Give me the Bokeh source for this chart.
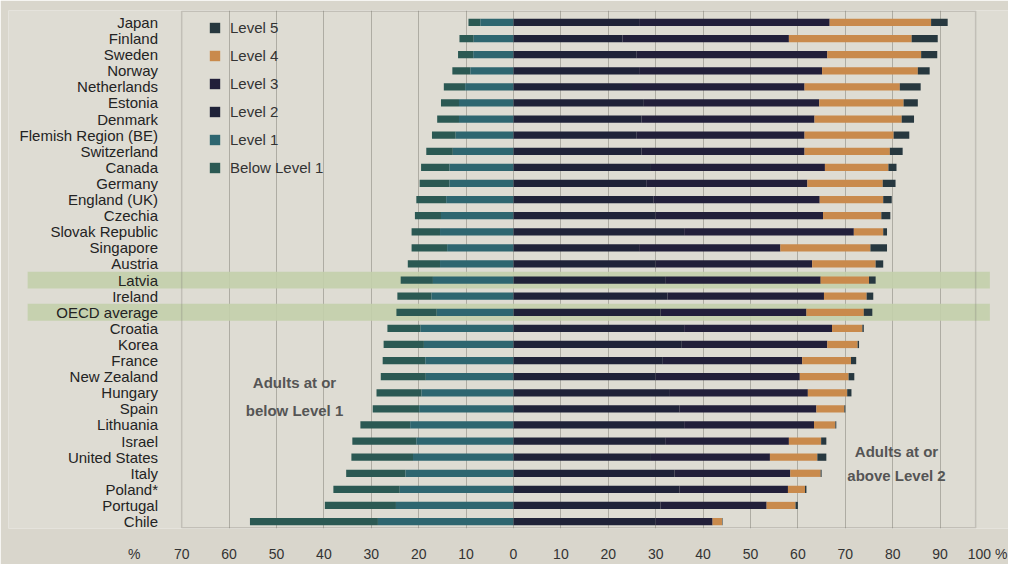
import numpy as np
from bokeh.plotting import figure
from bokeh.models import Range1d, FixedTicker, BoxAnnotation, Legend, LegendItem
from bokeh.core.properties import value
from bokeh.embed import file_html
from bokeh.resources import INLINE

countries = ["Japan", "Finland", "Sweden", "Norway", "Netherlands", "Estonia", "Denmark",
             "Flemish Region (BE)", "Switzerland", "Canada", "Germany", "England (UK)",
             "Czechia", "Slovak Republic", "Singapore", "Austria", "Latvia", "Ireland",
             "OECD average", "Croatia", "Korea", "France", "New Zealand", "Hungary", "Spain",
             "Lithuania", "Israel", "United States", "Italy", "Poland*", "Portugal", "Chile"]

below1 = [2.5, 3.0, 3.2, 3.8, 4.5, 3.8, 4.6, 5.0, 5.6, 6.0, 6.3, 6.3, 5.5, 6.0, 7.5, 6.8,
          6.8, 7.2, 8.5, 7.0, 8.5, 9.0, 9.5, 9.5, 9.8, 10.5, 13.5, 13.0, 12.5, 14.0, 15.0, 27.0]
level1 = [7.0, 8.4, 8.5, 9.1, 10.2, 11.5, 11.5, 12.2, 12.8, 13.5, 13.5, 14.2, 15.3, 15.5, 14.0, 15.5,
          17.0, 17.3, 16.2, 19.6, 18.9, 18.6, 18.5, 19.4, 19.9, 21.8, 20.5, 21.2, 22.8, 24.0, 24.8, 28.6]
level2 = [26.5, 23.0, 26.0, 26.5, 25.0, 27.5, 27.0, 26.0, 27.0, 29.0, 28.0, 29.5, 30.0, 36.0, 26.5, 30.0,
          32.0, 32.5, 31.0, 36.0, 35.5, 31.5, 30.0, 33.0, 35.0, 36.0, 32.0, 29.0, 34.0, 35.0, 31.0, 30.0]
level3 = [40.2, 35.1, 40.2, 38.6, 36.4, 37.0, 36.5, 35.4, 34.4, 36.7, 34.0, 35.1, 35.3, 35.8, 29.8, 33.0,
          32.8, 33.0, 30.8, 31.2, 30.7, 29.4, 30.4, 29.1, 28.9, 27.4, 26.1, 25.1, 24.4, 22.9, 22.4, 12.0]
level4 = [21.4, 25.9, 19.8, 20.2, 20.1, 17.8, 18.4, 18.8, 18.0, 13.4, 15.9, 13.4, 12.3, 6.2, 19.0, 13.4,
          10.2, 9.0, 12.1, 6.4, 6.4, 10.3, 10.3, 8.3, 5.9, 4.5, 6.8, 10.0, 6.4, 3.6, 6.1, 2.0]
level5 = [3.5, 5.5, 3.4, 2.5, 4.4, 3.0, 2.6, 3.3, 2.7, 1.7, 2.7, 1.8, 1.9, 0.8, 3.5, 1.6,
          1.4, 1.4, 1.8, 0.3, 0.3, 1.1, 1.2, 0.9, 0.2, 0.2, 1.1, 1.9, 0.2, 0.3, 0.5, 0.1]

highlighted = ["Latvia", "OECD average"]

tick_values = [-80, -70, -60, -50, -40, -30, -20, -10, 0, 10, 20, 30, 40, 50, 60, 70, 80, 90, 100]
tick_labels = ["%", "70", "60", "50", "40", "30", "20", "10", "0", "10", "20", "30", "40",
               "50", "60", "70", "80", "90", "100 %"]

colors = {
    "Below Level 1": "#2b5953",
    "Level 1": "#2e6670",
    "Level 2": "#1f2238",
    "Level 3": "#221f3a",
    "Level 4": "#c98a4c",
    "Level 5": "#27383f",
}

FONT = value("Liberation Sans")
n = len(countries)
rows = np.arange(n)

p = figure(frame_width=1000, frame_height=518, output_backend="svg", toolbar_location=None,
           x_range=Range1d(-106.54, 104.43), y_range=Range1d(31.43, -0.745),
           y_axis_location=None, min_border_left=8, min_border_right=0,
           min_border_top=10, min_border_bottom=0)
p.background_fill_color = "#dedcd3"
p.border_fill_color = "#d9d6cc"
p.outline_line_color = None
p.ygrid.visible = False
p.xgrid.ticker = FixedTicker(ticks=[t for t in tick_values if -70 < t < 100])
p.xgrid.grid_line_color = "#8e8c84"
p.xgrid.grid_line_alpha = 0.6

# highlight bands
hl = [countries.index(c) for c in highlighted]
p.hbar(y=hl, left=-102.5, right=100.5, height=1.05, fill_color="#c3cfab", line_color=None,
       fill_alpha=0.9)

# frame box
p.add_layout(BoxAnnotation(left=-70, right=97.5, top=-0.70, bottom=31.38, fill_alpha=0,
                           line_color="#807e76", line_width=1.5))

b1 = np.array(below1); l1 = np.array(level1)
l2 = np.array(level2); l3 = np.array(level3); l4 = np.array(level4); l5 = np.array(level5)

h = 0.45
r_b1 = p.hbar(y=rows, left=-(l1 + b1), right=-l1, height=h, fill_color=colors["Below Level 1"], line_color=None)
r_l1 = p.hbar(y=rows, left=-l1, right=0, height=h, fill_color=colors["Level 1"], line_color=None)
r_l2 = p.hbar(y=rows, left=0, right=l2, height=h, fill_color=colors["Level 2"], line_color=None)
r_l3 = p.hbar(y=rows, left=l2, right=l2 + l3, height=h, fill_color=colors["Level 3"], line_color=None)
r_l4 = p.hbar(y=rows, left=l2 + l3, right=l2 + l3 + l4, height=h, fill_color=colors["Level 4"], line_color=None)
r_l5 = p.hbar(y=rows, left=l2 + l3 + l4, right=l2 + l3 + l4 + l5, height=h, fill_color=colors["Level 5"], line_color=None)

# country labels
p.text(x=-75, y=rows, text=countries, text_align="right", text_baseline="middle",
       text_font=FONT, text_font_size="15px", text_color="#232323")

# annotations
p.text(x=[-46.2, -46.2], y=[22.36, 24.1], text=["Adults at or", "below Level 1"],
       text_align="center", text_baseline="middle", text_font=FONT, text_font_size="15px",
       text_font_style="bold", text_color="#555555")
p.text(x=[80.8, 80.8], y=[26.65, 28.15], text=["Adults at or", "above Level 2"],
       text_align="center", text_baseline="middle", text_font=FONT, text_font_size="15px",
       text_font_style="bold", text_color="#555555")

# x axis
p.xaxis.ticker = FixedTicker(ticks=tick_values)
p.xaxis.major_label_overrides = {v: s for v, s in zip(tick_values, tick_labels)}
p.xaxis.axis_line_color = None
p.xaxis.major_tick_line_color = None
p.xaxis.minor_tick_line_color = None
p.xaxis.major_label_standoff = 11
p.xaxis.major_label_text_font = "Liberation Sans"
p.xaxis.major_label_text_font_size = "14px"
p.xaxis.major_label_text_color = "#333333"

legend = Legend(items=[
    LegendItem(label="Level 5", renderers=[r_l5]),
    LegendItem(label="Level 4", renderers=[r_l4]),
    LegendItem(label="Level 3", renderers=[r_l3]),
    LegendItem(label="Level 2", renderers=[r_l2]),
    LegendItem(label="Level 1", renderers=[r_l1]),
    LegendItem(label="Below Level 1", renderers=[r_b1]),
], location=(200, 352))
legend.background_fill_alpha = 0
legend.border_line_color = None
legend.padding = 0
legend.margin = 0
legend.spacing = 10
legend.label_height = 18
legend.glyph_height = 13
legend.glyph_width = 13
legend.label_standoff = 9
legend.label_text_font = "Liberation Sans"
legend.label_text_font_size = "15px"
legend.label_text_color = "#333333"
p.add_layout(legend)

html = file_html(p, INLINE)
html = html.replace("<body>", '<body style="background-color:#d9d6cc;">', 1)
open("out.html", "w").write(html)
